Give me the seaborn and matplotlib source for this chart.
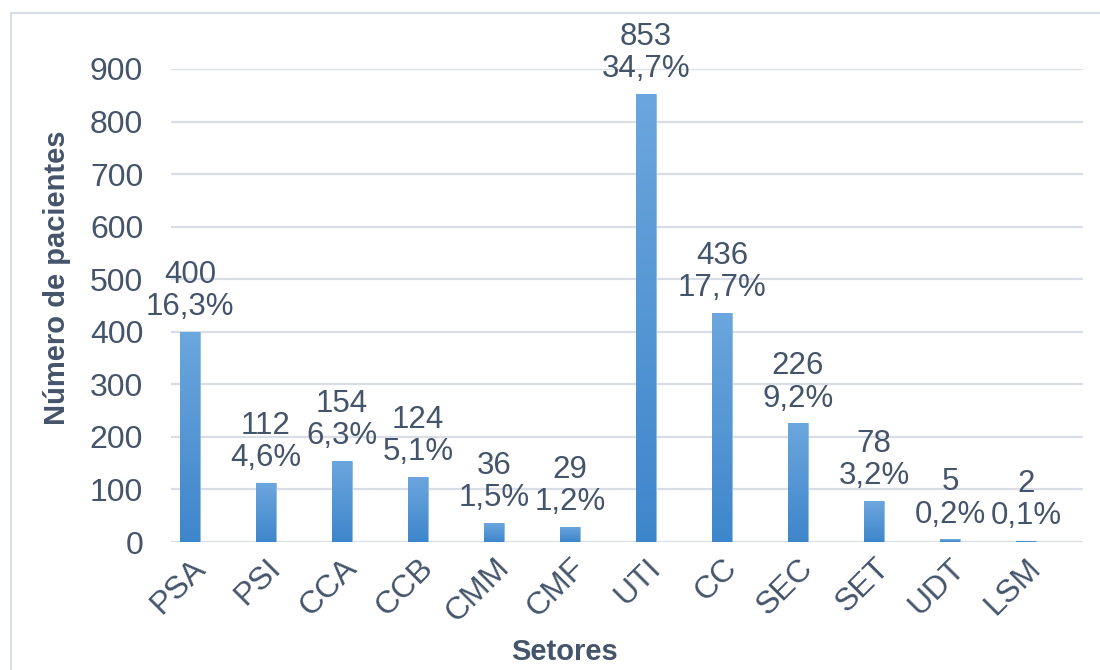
import matplotlib
matplotlib.use("Agg")
import matplotlib.pyplot as plt
import matplotlib.colors as mcolors
import numpy as np
import pandas as pd
import seaborn as sns
from matplotlib.lines import Line2D

setores = ["PSA", "PSI", "CCA", "CCB", "CMM", "CMF", "UTI", "CC", "SEC", "SET", "UDT", "LSM"]
pacientes = [400, 112, 154, 124, 36, 29, 853, 436, 226, 78, 5, 2]
percentuais = ["16,3%", "4,6%", "6,3%", "5,1%", "1,5%", "1,2%", "34,7%", "17,7%", "9,2%", "3,2%", "0,2%", "0,1%"]
yticks = [0, 100, 200, 300, 400, 500, 600, 700, 800, 900]

TEXT = "#44546A"
GRID = "#D9DEE6"

sns.set_style("white")
plt.rcParams["font.family"] = ["Liberation Sans", "DejaVu Sans"]

df = pd.DataFrame({"setor": setores, "n": pacientes})

fig = plt.figure(figsize=(11, 6.7), dpi=100)
ax = fig.add_axes([171 / 1100, 1 - 542 / 670, 912 / 1100, 473 / 670])

sns.barplot(data=df, x="setor", y="n", color="#5B9BD5", width=0.26, ax=ax,
            edgecolor="#8DBBE6", linewidth=0.6, zorder=3)

# gradiente vertical nas barras
cmap = mcolors.LinearSegmentedColormap.from_list("g", ["#3E86CB", "#6CA6DE"])
grad = np.linspace(0, 1, 256).reshape(-1, 1)
for p in ax.patches:
    x0, y0 = p.get_x(), p.get_y()
    w, h = p.get_width(), p.get_height()
    im = ax.imshow(grad, cmap=cmap, origin="lower", aspect="auto",
                   extent=[x0, x0 + w, y0, y0 + h], zorder=3.5)
    im.set_clip_path(p)

# rótulos de dados
for i, (v, pct) in enumerate(zip(pacientes, percentuais)):
    ax.annotate(f"{v}\n{pct}", xy=(i, v), xytext=(0, 7), textcoords="offset points",
                ha="center", va="bottom", fontsize=22.5, color=TEXT,
                linespacing=1.1, clip_on=False, zorder=5)

ax.set_xlim(-0.25, 11.75)
ax.set_ylim(0, 900)
ax.set_yticks(yticks)
ax.yaxis.grid(True, color=GRID, linewidth=1.6, zorder=0)
ax.set_axisbelow(True)
for s in ax.spines.values():
    s.set_visible(False)

ax.tick_params(axis="y", length=0, pad=20, labelsize=23, labelcolor=TEXT)
ax.tick_params(axis="x", length=0, pad=8, labelsize=23, labelcolor=TEXT)
plt.setp(ax.get_xticklabels(), rotation=45, ha="right", rotation_mode="anchor")

ax.set_ylabel("Número de pacientes", fontsize=21, fontweight="bold", color=TEXT,
              va="center", ha="center")
ax.yaxis.set_label_coords(-0.125, 0.558)
ax.set_xlabel("Setores", fontsize=21, fontweight="bold", color=TEXT,
              va="center", ha="center")
ax.xaxis.set_label_coords(0.432, -0.233)

# moldura externa
fig.add_artist(Line2D([11 / 1100, 11 / 1100], [0, 1 - 13 / 670], color=GRID, linewidth=1.5))
fig.add_artist(Line2D([11 / 1100, 1], [1 - 13 / 670, 1 - 13 / 670], color=GRID, linewidth=1.5))

fig.savefig("out.png", dpi=100)
